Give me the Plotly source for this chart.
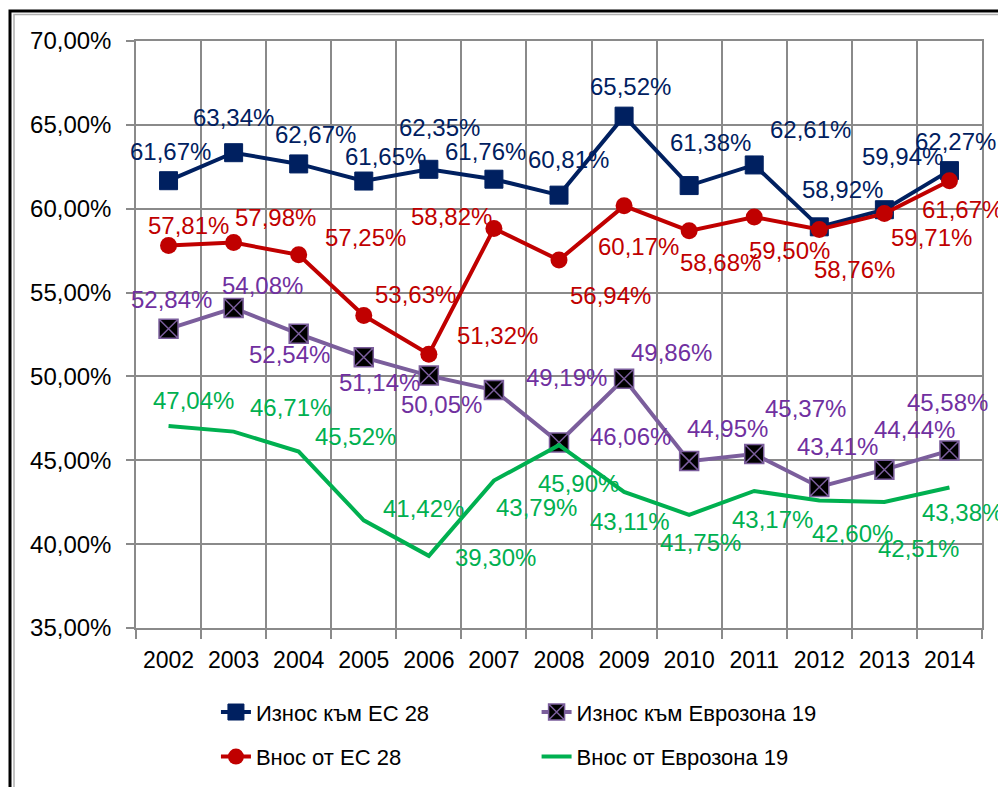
import plotly.graph_objects as go

years = ["2002", "2003", "2004", "2005", "2006", "2007", "2008",
         "2009", "2010", "2011", "2012", "2013", "2014"]

export_eu28 = [61.67, 63.34, 62.67, 61.65, 62.35, 61.76, 60.81,
               65.52, 61.38, 62.61, 58.92, 59.94, 62.27]
import_eu28 = [57.81, 57.98, 57.25, 53.63, 51.32, 58.82, 56.94,
               60.17, 58.68, 59.50, 58.76, 59.71, 61.67]
export_ez19 = [52.84, 54.08, 52.54, 51.14, 50.05, 49.19, 46.06,
               49.86, 44.95, 45.37, 43.41, 44.44, 45.58]
import_ez19 = [47.04, 46.71, 45.52, 41.42, 39.30, 43.79, 45.90,
               43.11, 41.75, 43.17, 42.60, 42.51, 43.38]

names = ["Износ към ЕС 28", "Износ към Еврозона 19",
         "Внос от ЕС 28", "Внос от Еврозона 19"]

y_ticks = [35, 40, 45, 50, 55, 60, 65, 70]
y_tick_text = [f"{v:.2f}".replace(".", ",") + "%" for v in y_ticks]

# label offsets (pixels, dx right / dy down) relative to each point
off_export_eu28 = [(2, -29), (0, -35), (17, -29), (22, -25), (11, -42), (-8, -28), (9, -36),
                   (6, -30), (21, -43), (56, -35), (23, -37), (18, -53), (6, -29)]
off_import_eu28 = [(20, -20), (42, -25), (67, -17), (52, -21), (69, -19), (-42, -12), (51, 35),
                   (14, 41), (31, 32), (35, 33), (35, 40), (47, 24), (13, 29)]
off_export_ez19 = [(3, -29), (29, -23), (-9, 21), (16, 25), (13, 29), (73, -13), (71, -6),
                   (47, -26), (38, -33), (51, -46), (18, -40), (30, -40), (-2, -48)]
off_import_ez19 = [(25, -26), (57, -24), (57, -15), (60, -12), (67, 2), (43, 27), (19, 38),
                   (6, 30), (11, 28), (18, 29), (33, 33), (34, 46), (13, 25)]

C_BLUE = "#002060"
C_RED = "#C00000"
C_PURPLE_LINE = "#7B5E9C"
C_PURPLE_TXT = "#7030A0"
C_GREEN = "#00B050"
GRID = "#8a8a8a"
FONT = "Liberation Sans, Arial, sans-serif"

fig = go.Figure()

fig.add_trace(go.Scatter(
    x=years, y=export_eu28, name=names[0], mode="lines+markers",
    line=dict(color=C_BLUE, width=4),
    marker=dict(symbol="square", size=18, color=C_BLUE, line=dict(color=C_BLUE, width=1)),
    legend="legend", legendgroup="a"))
fig.add_trace(go.Scatter(
    x=years, y=export_ez19, name=names[1], mode="lines+markers",
    line=dict(color=C_PURPLE_LINE, width=4),
    marker=dict(symbol="square-x", size=19, color="black",
                line=dict(color=C_PURPLE_LINE, width=1.5)),
    legend="legend2", legendgroup="b"))
fig.add_trace(go.Scatter(
    x=years, y=import_eu28, name=names[2], mode="lines+markers",
    line=dict(color=C_RED, width=4),
    marker=dict(symbol="circle", size=17, color=C_RED),
    legend="legend", legendgroup="c"))
fig.add_trace(go.Scatter(
    x=years, y=import_ez19, name=names[3], mode="lines",
    line=dict(color=C_GREEN, width=4),
    legend="legend2", legendgroup="d"))

annotations = []
for vals, offs, col in [(export_eu28, off_export_eu28, C_BLUE),
                        (import_eu28, off_import_eu28, C_RED),
                        (export_ez19, off_export_ez19, C_PURPLE_TXT),
                        (import_ez19, off_import_ez19, C_GREEN)]:
    for i, (v, (dx, dy)) in enumerate(zip(vals, offs)):
        annotations.append(dict(
            x=i, y=v, xref="x", yref="y",
            text=f"{v:.2f}".replace(".", ",") + "%",
            showarrow=False, xshift=dx, yshift=-dy,
            font=dict(family=FONT, size=24, color=col)))

fig.update_layout(
    width=998, height=779,
    margin=dict(l=128, r=24, t=33, b=159, autoexpand=False),
    paper_bgcolor="white", plot_bgcolor="white",
    font=dict(family=FONT, size=23, color="black"),
    annotations=annotations,
    showlegend=True,
    legend=dict(x=0.0945, y=-0.1077, xanchor="left", yanchor="top",
                orientation="v", tracegroupgap=13, bgcolor="rgba(0,0,0,0)",
                font=dict(family=FONT, size=22, color="black")),
    legend2=dict(x=0.4735, y=-0.1077, xanchor="left", yanchor="top",
                 orientation="v", tracegroupgap=13, bgcolor="rgba(0,0,0,0)",
                 font=dict(family=FONT, size=22, color="black")),
    xaxis=dict(type="category", range=[-0.5, 12.5], tickson="boundaries", showgrid=True,
               gridcolor=GRID, gridwidth=1.5, ticks="outside", ticklen=9,
               tickcolor=GRID, tickwidth=1.5, showline=True, linecolor=GRID,
               linewidth=1.5, mirror=True, ticklabelstandoff=11, automargin=False,
               tickfont=dict(family=FONT, size=23, color="black")),
    yaxis=dict(range=[35, 70], tickmode="array", tickvals=y_ticks, ticktext=y_tick_text,
               showgrid=True, gridcolor=GRID, gridwidth=1.5, ticks="outside",
               ticklen=8, tickcolor=GRID, tickwidth=1.5, showline=True,
               linecolor=GRID, linewidth=1.5, mirror=True, zeroline=False,
               ticklabelstandoff=10, automargin=False,
               tickfont=dict(family=FONT, size=24, color="black")),
    shapes=[
        dict(type="rect", xref="paper", yref="paper",
             x0=(10 - 136) / 846, x1=(1015 - 136) / 846,
             y0=(628 - 795) / 587, y1=(628 - 11) / 587,
             line=dict(color="black", width=3), fillcolor="rgba(0,0,0,0)", layer="below"),
        dict(type="rect", xref="paper", yref="paper",
             x0=(14 - 136) / 846, x1=(1015 - 136) / 846,
             y0=(628 - 795) / 587, y1=(628 - 14.5) / 587,
             line=dict(color="#b0b0b0", width=1.5), fillcolor="rgba(0,0,0,0)", layer="below"),
    ],
)

fig.write_html("out.html")
